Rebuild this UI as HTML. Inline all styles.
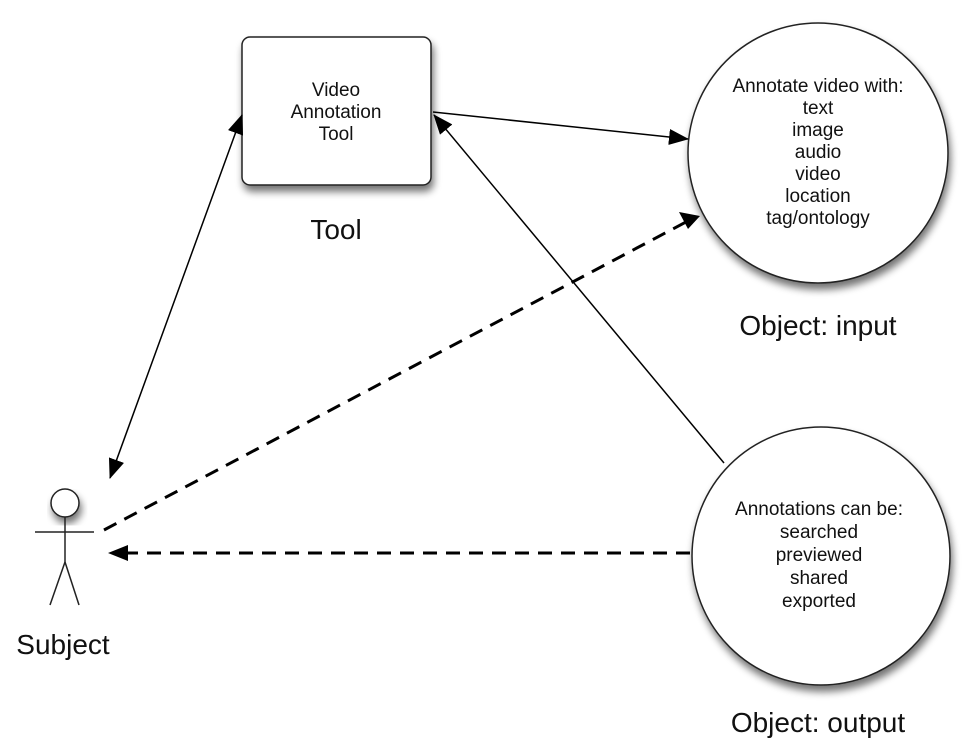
<!DOCTYPE html>
<html><head><meta charset="utf-8"><style>
html,body{margin:0;padding:0;background:#fff;}
svg{display:block;}
text{font-family:"Liberation Sans",Arial,sans-serif;fill:#111;}
</style></head><body>
<svg width="971" height="748" viewBox="0 0 971 748" xmlns="http://www.w3.org/2000/svg">
<defs>
<filter id="sh" x="-20%" y="-20%" width="150%" height="150%">
<feGaussianBlur in="SourceAlpha" stdDeviation="4"/>
<feOffset dx="2" dy="6" result="b"/>
<feComponentTransfer><feFuncA type="linear" slope="0.55"/></feComponentTransfer>
<feMerge><feMergeNode/><feMergeNode in="SourceGraphic"/></feMerge>
</filter>
<marker id="ah" markerWidth="20" markerHeight="16" refX="19" refY="8" orient="auto" markerUnits="userSpaceOnUse">
<path d="M0,0 L20,8 L0,16 Z" fill="#000"/>
</marker>
<marker id="ahs" markerWidth="20" markerHeight="16" refX="1" refY="8" orient="auto" markerUnits="userSpaceOnUse">
<path d="M20,0 L0,8 L20,16 Z" fill="#000"/>
</marker>
</defs>

<rect x="242" y="37" width="189" height="148" rx="8" fill="#fff" stroke="#222" stroke-width="1.5" filter="url(#sh)"/>
<g font-size="19" text-anchor="middle">
<text x="336" y="96">Video</text>
<text x="336" y="118">Annotation</text>
<text x="336" y="140">Tool</text>
</g>
<text x="336" y="239" font-size="28" text-anchor="middle">Tool</text>

<circle cx="818" cy="153" r="130" fill="#fff" stroke="#222" stroke-width="1.5" filter="url(#sh)"/>
<g font-size="19" text-anchor="middle">
<text x="818" y="92">Annotate video with:</text>
<text x="818" y="114">text</text>
<text x="818" y="136">image</text>
<text x="818" y="158">audio</text>
<text x="818" y="180">video</text>
<text x="818" y="202">location</text>
<text x="818" y="224">tag/ontology</text>
</g>
<text x="818" y="335" font-size="28" text-anchor="middle">Object: input</text>

<circle cx="821" cy="556" r="129" fill="#fff" stroke="#222" stroke-width="1.5" filter="url(#sh)"/>
<g font-size="19" text-anchor="middle">
<text x="819" y="515">Annotations can be:</text>
<text x="819" y="538">searched</text>
<text x="819" y="561">previewed</text>
<text x="819" y="584">shared</text>
<text x="819" y="607">exported</text>
</g>
<text x="818" y="732" font-size="28" text-anchor="middle">Object: output</text>

<circle cx="65" cy="503" r="14" fill="#fff" stroke="#222" stroke-width="1.5" filter="url(#sh)"/>
<g stroke="#222" stroke-width="1.5" fill="none">
<line x1="35" y1="532" x2="94" y2="532"/>
<line x1="65" y1="517" x2="65" y2="562"/>
<line x1="65" y1="562" x2="50" y2="605"/>
<line x1="65" y1="562" x2="79" y2="605"/>
</g>
<text x="63" y="654" font-size="28" text-anchor="middle">Subject</text>

<g stroke="#000" stroke-width="1.5" fill="none">
<line x1="110" y1="478" x2="242" y2="115" marker-start="url(#ahs)" marker-end="url(#ah)"/>
<line x1="433" y1="112" x2="688" y2="139" marker-end="url(#ah)"/>
<line x1="724" y1="463" x2="434" y2="115" marker-end="url(#ah)"/>
</g>
<g stroke="#000" stroke-width="3" fill="none" stroke-dasharray="14,9">
<line x1="104" y1="530" x2="686" y2="222"/>
<line x1="690" y1="553" x2="125" y2="553"/>
</g>
<path d="M700,216 L679,212 L688,229 Z" fill="#000"/>
<path d="M108,553 L128,545 L128,561 Z" fill="#000"/>
</svg>
</body></html>
